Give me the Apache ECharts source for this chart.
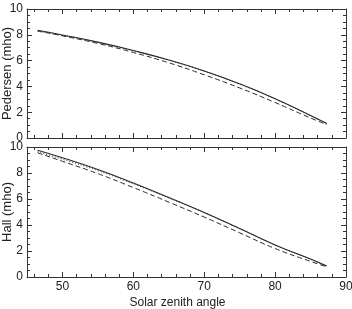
<!DOCTYPE html>
<html>
<head>
<meta charset="utf-8">
<script src="https://cdn.jsdelivr.net/npm/echarts@6/dist/echarts.min.js"></script>
<style>
html,body{margin:0;padding:0;background:#fff;}
#c{width:352px;height:309px;}
</style>
</head>
<body>
<div id="c"></div>
<script>
// Solar zenith angle samples
const angles = [46.5, 50, 55, 60, 65, 70, 75, 80, 85, 87.3];
// Pedersen conductance (mho)
const pedSolid  = [8.35, 7.99, 7.43, 6.78, 6.05, 5.20, 4.20, 3.05, 1.75, 1.12];
const pedDotted = [8.27, 7.95, 7.41, 6.76, 6.03, 5.18, 4.18, 3.03, 1.73, 1.11];
const pedDashed = [8.30, 7.92, 7.33, 6.63, 5.83, 4.90, 3.88, 2.75, 1.55, 1.04];
// Hall conductance (mho)
const hallSolid  = [9.75, 9.17, 8.27, 7.23, 6.11, 4.96, 3.73, 2.47, 1.38, 0.84];
const hallDotted = [9.63, 9.06, 8.18, 7.17, 6.08, 4.94, 3.72, 2.46, 1.36, 0.82];
const hallDashed = [9.55, 8.90, 7.95, 6.88, 5.76, 4.61, 3.40, 2.19, 1.20, 0.78];
// Axis ticks
const xMajor = [50, 60, 70, 80, 90];
const xMinor = [46, 48, 52, 54, 56, 58, 62, 64, 66, 68, 72, 74, 76, 78, 82, 84, 86, 88];

const pair = arr => angles.map((a, i) => [a, arr[i]]);
const axisCol = '#333';
const txtCol = '#222';
const font = 'Liberation Sans, Arial, sans-serif';

const grids = [
  {left: 27, right: 6, top: 9, height: 129, outerBoundsMode: 'none', containLabel: false},
  {left: 27, right: 6, top: 147, height: 130, outerBoundsMode: 'none', containLabel: false}
];

const xAxes = [];
const yAxes = [];
[0, 1].forEach(g => {
  ['bottom', 'top'].forEach(pos => {
    xAxes.push({
      type: 'value', gridIndex: g, position: pos, min: 45, max: 90,
      axisLine: {show: true, onZero: false, lineStyle: {color: axisCol, width: 1}},
      axisTick: {show: true, inside: true, length: 5, customValues: xMajor, lineStyle: {color: axisCol}},
      axisLabel: {show: g === 1 && pos === 'bottom', customValues: xMajor, color: txtCol, fontSize: 12, fontFamily: font, margin: 4},
      splitLine: {show: false},
      name: (g === 1 && pos === 'bottom') ? 'Solar zenith angle' : '',
      nameLocation: 'middle', nameGap: 20, nameMoveOverlap: false,
      nameTextStyle: {color: txtCol, fontSize: 12, fontFamily: font, padding: [0, 18, 0, 0]}
    });
    xAxes.push({
      type: 'value', gridIndex: g, position: pos, min: 45, max: 90,
      axisLine: {show: false, onZero: false},
      axisTick: {show: true, inside: true, length: 3, customValues: xMinor, lineStyle: {color: axisCol}},
      axisLabel: {show: false},
      splitLine: {show: false}
    });
  });
  ['left', 'right'].forEach(pos => {
    yAxes.push({
      type: 'value', gridIndex: g, position: pos, min: 0, max: 10, interval: 2,
      axisLine: {show: true, onZero: false, lineStyle: {color: axisCol, width: 1}},
      axisTick: {show: true, inside: true, length: 5, lineStyle: {color: axisCol}},
      minorTick: {show: true, splitNumber: 4, length: 3, lineStyle: {color: axisCol}},
      axisLabel: {show: pos === 'left', color: txtCol, fontSize: 12, fontFamily: font, margin: 4},
      splitLine: {show: false},
      name: pos === 'left' ? (g === 0 ? 'Pedersen (mho)' : 'Hall (mho)') : '',
      nameLocation: 'middle', nameGap: 13, nameMoveOverlap: false,
      nameTextStyle: {color: txtCol, fontSize: 13, fontFamily: font}
    });
  });
});

function line(data, g, type) {
  return {
    type: 'line', xAxisIndex: g * 4, yAxisIndex: g * 2, data: data,
    smooth: true, symbol: 'none', silent: true,
    lineStyle: {
      color: '#2a2a2a',
      width: type === 'solid' ? 1.1 : 1,
      type: type === 'solid' ? 'solid' : (type === 'dashed' ? [5, 3] : [1, 2])
    }
  };
}

const chart = echarts.init(document.getElementById('c'), null, {renderer: 'canvas'});
chart.setOption({
  animation: false,
  backgroundColor: '#fff',
  grid: grids,
  xAxis: xAxes,
  yAxis: yAxes,
  series: [
    line(pair(pedSolid), 0, 'solid'),
    line(pair(pedDotted), 0, 'dotted'),
    line(pair(pedDashed), 0, 'dashed'),
    line(pair(hallSolid), 1, 'solid'),
    line(pair(hallDotted), 1, 'dotted'),
    line(pair(hallDashed), 1, 'dashed')
  ]
});
</script>
</body>
</html>
